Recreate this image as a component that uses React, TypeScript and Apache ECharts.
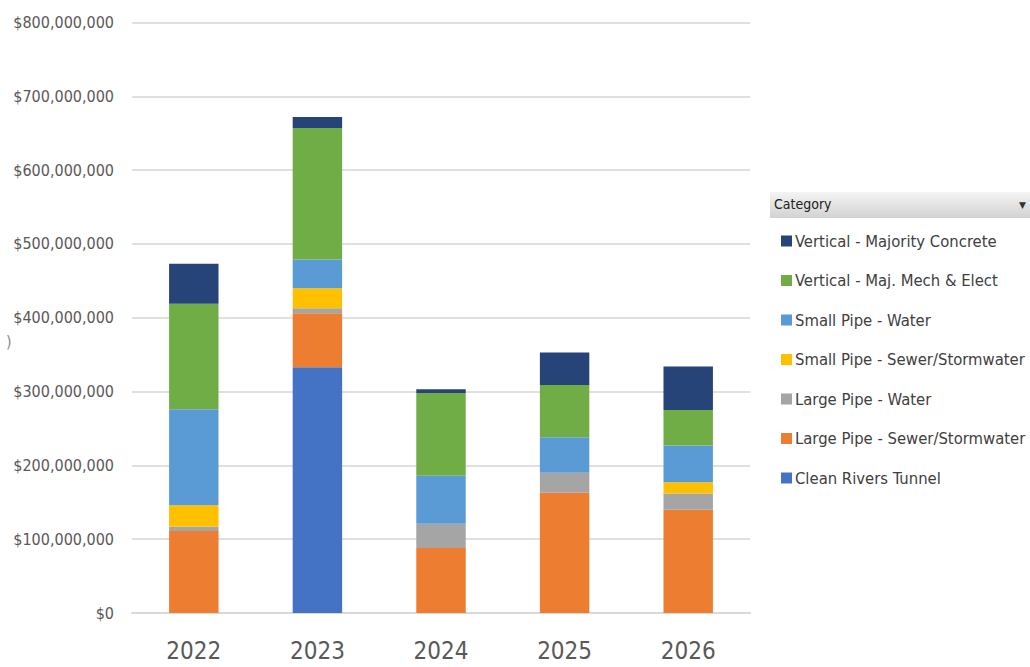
import React, { useEffect, useRef } from "react";
import * as echarts from "echarts";

const years = ["2022", "2023", "2024", "2025", "2026"];

const cleanRiversTunnel = [0, 333, 0, 0, 0];
const largePipeSewer = [111, 73, 88, 163, 140];
const largePipeWater = [6, 7, 33, 27, 22];
const smallPipeSewer = [29, 27, 0, 0, 15];
const smallPipeWater = [130, 39, 65, 48, 50];
const verticalMechElect = [143, 178, 112, 71, 48];
const verticalConcrete = [54, 15, 5, 44, 59];

const seriesNames = [
  "Clean Rivers Tunnel",
  "Large Pipe - Sewer/Stormwater",
  "Large Pipe - Water",
  "Small Pipe - Sewer/Stormwater",
  "Small Pipe - Water",
  "Vertical - Maj. Mech & Elect",
  "Vertical - Majority Concrete",
];
const seriesValues = [
  cleanRiversTunnel,
  largePipeSewer,
  largePipeWater,
  smallPipeSewer,
  smallPipeWater,
  verticalMechElect,
  verticalConcrete,
];
const seriesColors = [
  "#4472C4",
  "#ED7D31",
  "#A5A5A5",
  "#FFC000",
  "#5B9BD5",
  "#70AD47",
  "#264478",
];

const yTicks = [0, 100, 200, 300, 400, 500, 600, 700, 800];

const FONT = "'DejaVu Sans Condensed', 'DejaVu Sans', sans-serif";

function fmtMoney(vMillions: number): string {
  const n = Math.round(vMillions * 1000000);
  return "$" + n.toLocaleString("en-US");
}

export default function App() {
  const ref = useRef<HTMLDivElement>(null);
  useEffect(() => {
    if (!ref.current) return;
    const chart = echarts.init(ref.current, undefined, { renderer: "svg" });
    chart.setOption({
      animation: false,
      backgroundColor: "#ffffff",
      grid: {
        left: 132,
        right: 280,
        top: 22.5,
        bottom: 54,
        containLabel: false,
        outerBoundsMode: "none",
      },
      xAxis: {
        type: "category",
        data: years,
        axisLine: { show: true, lineStyle: { color: "#d9d9d9", width: 2 } },
        axisTick: { show: false },
        axisLabel: {
          color: "#595959",
          fontFamily: FONT,
          fontSize: 24,
          margin: 26,
        },
      },
      yAxis: {
        type: "value",
        min: yTicks[0],
        max: yTicks[yTicks.length - 1],
        interval: 100,
        axisLine: { show: false },
        axisTick: { show: false },
        splitLine: { lineStyle: { color: "#e0e0e0", width: 2 } },
        axisLabel: {
          color: "#595959",
          fontFamily: FONT,
          fontSize: 16,
          margin: 18,
          formatter: (v: number) => fmtMoney(v),
        },
      },
      legend: {
        orient: "vertical",
        left: 776,
        top: 226,
        itemWidth: 11,
        itemHeight: 11,
        itemGap: 19.5,
        icon: "rect",
        data: [...seriesNames].reverse(),
        textStyle: {
          color: "#404040",
          fontFamily: FONT,
          fontSize: 16.5,
          lineHeight: 20,
          padding: [0, 0, 0, -2],
        },
      },
      graphic: [
        {
          type: "rect",
          left: 770,
          top: 192,
          shape: { width: 260, height: 26 },
          style: {
            fill: new echarts.graphic.LinearGradient(0, 0, 0, 1, [
              { offset: 0, color: "#f4f4f4" },
              { offset: 1, color: "#d2d2d2" },
            ]),
          },
        },
        {
          type: "text",
          left: 774,
          top: 197,
          style: {
            text: "Category",
            fill: "#222222",
            font: "14px " + FONT,
          },
        },
        {
          type: "text",
          left: 1019,
          top: 200,
          style: {
            text: "▼",
            fill: "#333333",
            font: "9px DejaVu Sans",
          },
        },
        {
          type: "text",
          left: 6,
          top: 333,
          style: {
            text: ")",
            fill: "#8a8a8a",
            font: "16px " + FONT,
          },
        },
      ],
      series: seriesNames.map((name, i) => ({
        name,
        type: "bar",
        stack: "total",
        barWidth: "40%",
        data: seriesValues[i],
        itemStyle: { color: seriesColors[i] },
        emphasis: { disabled: true },
      })),
    });
    return () => chart.dispose();
  }, []);
  return (
    <div
      ref={ref}
      style={{ position: "absolute", left: 0, top: 0, width: 1030, height: 667 }}
    />
  );
}
